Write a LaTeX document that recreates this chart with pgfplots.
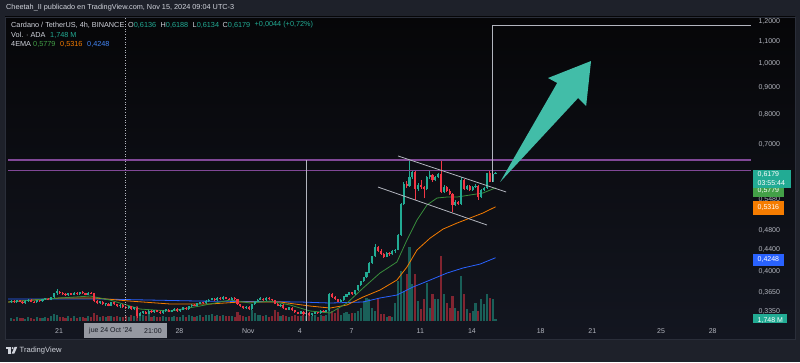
\documentclass[border=0pt]{standalone}
\usepackage{pgfplots}
\pgfplotsset{compat=1.18}
\usepackage{pgfplotstable}
\usepackage{fontspec}
\setmainfont{Liberation Sans}
\definecolor{bgout}{RGB}{30,33,42}
\definecolor{panTop}{RGB}{6,6,8}
\definecolor{panBot}{RGB}{19,22,32}
\definecolor{panline}{RGB}{42,46,57}
\definecolor{txt}{RGB}{209,212,220}
\definecolor{axt}{RGB}{178,181,190}
\definecolor{up}{RGB}{34,171,148}
\definecolor{dn}{RGB}{242,54,69}
\definecolor{emag}{RGB}{56,142,60}
\definecolor{emagbox}{RGB}{67,160,71}
\definecolor{emao}{RGB}{245,124,0}
\definecolor{emab}{RGB}{41,98,255}
\definecolor{emabt}{RGB}{66,133,244}
\definecolor{purp}{RGB}{128,72,150}
\definecolor{arrowc}{RGB}{66,189,168}
\definecolor{drawg}{RGB}{178,181,190}
\definecolor{crossbox}{RGB}{150,153,162}
\definecolor{crosstxt}{RGB}{24,27,36}
\newcommand\fs{\fontsize{7}{8.4}\selectfont}
\newcommand\fh{\fontsize{7.3}{8.6}\selectfont}

\pgfplotstableread{
i o h l c v
0 0.349 0.352 0.348 0.351 3
1 0.351 0.352 0.348 0.349 2
2 0.349 0.353 0.348 0.352 4
3 0.352 0.353 0.349 0.350 3
4 0.350 0.351 0.347 0.348 3
5 0.348 0.352 0.347 0.351 2
6 0.351 0.354 0.350 0.353 4
7 0.353 0.354 0.349 0.350 3
8 0.350 0.351 0.348 0.349 2
9 0.349 0.353 0.348 0.352 4
10 0.352 0.353 0.350 0.351 3
11 0.351 0.355 0.350 0.354 3
12 0.354 0.356 0.353 0.355 4
13 0.355 0.356 0.352 0.353 3
14 0.353 0.358 0.352 0.357 5
15 0.357 0.364 0.356 0.363 7
16 0.363 0.370 0.361 0.366 6
17 0.366 0.367 0.362 0.364 4
18 0.364 0.365 0.361 0.362 4
19 0.362 0.363 0.359 0.360 3
20 0.360 0.364 0.359 0.363 5
21 0.363 0.364 0.360 0.361 3
22 0.361 0.365 0.360 0.364 5
23 0.364 0.365 0.361 0.362 3
24 0.362 0.366 0.361 0.365 4
25 0.365 0.367 0.362 0.363 4
26 0.363 0.364 0.360 0.361 3
27 0.361 0.365 0.360 0.364 5
28 0.364 0.366 0.362 0.363 4
29 0.363 0.364 0.349 0.351 8
30 0.351 0.352 0.346 0.348 6
31 0.348 0.351 0.347 0.350 4
32 0.350 0.351 0.345 0.346 5
33 0.346 0.348 0.344 0.347 4
34 0.347 0.348 0.343 0.344 5
35 0.344 0.350 0.343 0.349 5
36 0.349 0.350 0.345 0.346 4
37 0.346 0.347 0.342 0.343 5
38 0.343 0.346 0.341 0.345 4
39 0.345 0.346 0.341 0.342 4
40 0.342 0.343 0.339 0.340 5
41 0.340 0.344 0.339 0.343 4
42 0.343 0.344 0.338 0.339 6
43 0.339 0.342 0.337 0.341 5
44 0.341 0.342 0.326 0.329 15
45 0.329 0.334 0.328 0.333 8
46 0.333 0.336 0.332 0.335 6
47 0.335 0.336 0.331 0.332 5
48 0.332 0.337 0.331 0.336 7
49 0.336 0.337 0.333 0.334 4
50 0.334 0.338 0.333 0.337 5
51 0.337 0.338 0.334 0.335 4
52 0.335 0.336 0.332 0.333 4
53 0.333 0.337 0.332 0.336 5
54 0.336 0.339 0.335 0.338 4
55 0.338 0.339 0.334 0.335 4
56 0.335 0.338 0.334 0.337 4
57 0.337 0.340 0.336 0.339 5
58 0.339 0.340 0.335 0.336 4
59 0.336 0.339 0.335 0.338 4
60 0.338 0.342 0.337 0.341 6
61 0.341 0.342 0.338 0.339 4
62 0.339 0.344 0.338 0.343 6
63 0.343 0.346 0.342 0.345 5
64 0.345 0.346 0.343 0.344 4
65 0.344 0.348 0.343 0.347 5
66 0.347 0.350 0.346 0.349 6
67 0.349 0.350 0.347 0.348 4
68 0.348 0.352 0.347 0.351 6
69 0.351 0.354 0.350 0.353 6
70 0.353 0.356 0.352 0.355 7
71 0.355 0.356 0.351 0.352 5
72 0.352 0.357 0.351 0.356 6
73 0.356 0.357 0.353 0.354 5
74 0.354 0.359 0.353 0.357 6
75 0.357 0.358 0.354 0.355 5
76 0.355 0.356 0.352 0.353 5
77 0.353 0.357 0.352 0.356 5
78 0.356 0.357 0.353 0.354 4
79 0.354 0.355 0.345 0.346 9
80 0.346 0.347 0.342 0.343 6
81 0.343 0.344 0.339 0.340 5
82 0.340 0.343 0.339 0.342 4
83 0.342 0.343 0.338 0.339 5
84 0.339 0.347 0.338 0.346 11
85 0.346 0.351 0.345 0.350 8
86 0.350 0.354 0.349 0.353 6
87 0.353 0.357 0.352 0.355 6
88 0.355 0.356 0.351 0.352 5
89 0.352 0.358 0.351 0.356 6
90 0.356 0.357 0.353 0.354 4
91 0.354 0.355 0.351 0.352 5
92 0.352 0.353 0.346 0.347 11
93 0.347 0.348 0.343 0.344 9
94 0.344 0.346 0.342 0.345 5
95 0.345 0.346 0.339 0.340 6
96 0.340 0.341 0.337 0.338 5
97 0.338 0.342 0.337 0.341 4
98 0.341 0.342 0.336 0.337 5
99 0.337 0.338 0.333 0.334 6
100 0.334 0.335 0.331 0.332 5
101 0.332 0.336 0.331 0.335 5
102 0.335 0.336 0.330 0.331 6
103 0.331 0.334 0.330 0.333 5
104 0.333 0.334 0.328 0.330 7
105 0.330 0.333 0.329 0.332 5
106 0.332 0.335 0.331 0.334 6
107 0.334 0.335 0.332 0.333 4
108 0.333 0.337 0.332 0.336 6
109 0.336 0.337 0.334 0.335 5
110 0.335 0.338 0.334 0.337 6
111 0.337 0.364 0.336 0.3625 20
112 0.3625 0.364 0.356 0.358 10
113 0.358 0.359 0.353 0.354 8
114 0.354 0.355 0.349 0.350 12
115 0.350 0.354 0.349 0.352 6
116 0.352 0.359 0.351 0.358 8
117 0.358 0.362 0.357 0.361 9
118 0.361 0.366 0.360 0.365 7
119 0.365 0.366 0.361 0.362 8
120 0.362 0.369 0.361 0.368 8
121 0.368 0.377 0.367 0.376 10
122 0.376 0.384 0.375 0.383 13
123 0.383 0.391 0.382 0.390 20
124 0.390 0.399 0.389 0.398 23
125 0.398 0.416 0.397 0.415 22
126 0.415 0.429 0.414 0.428 13
127 0.428 0.452 0.427 0.445 10
128 0.445 0.447 0.436 0.438 23
129 0.438 0.441 0.430 0.432 7
130 0.432 0.434 0.425 0.427 7
131 0.427 0.436 0.426 0.434 4
132 0.434 0.436 0.429 0.431 5
133 0.431 0.439 0.430 0.437 4
134 0.437 0.442 0.434 0.440 18
135 0.440 0.472 0.439 0.470 40
136 0.470 0.540 0.468 0.538 50
137 0.538 0.592 0.535 0.588 30
138 0.588 0.596 0.578 0.583 47
139 0.583 0.656 0.580 0.605 74
140 0.605 0.624 0.600 0.620 37
141 0.620 0.622 0.548 0.575 47
142 0.575 0.590 0.570 0.586 20
143 0.586 0.597 0.575 0.579 12
144 0.579 0.583 0.552 0.575 22
145 0.575 0.608 0.573 0.605 38
146 0.605 0.625 0.601 0.612 13
147 0.612 0.615 0.594 0.597 27
148 0.597 0.610 0.595 0.606 22
149 0.606 0.616 0.603 0.613 22
150 0.613 0.652 0.565 0.568 65
151 0.568 0.584 0.565 0.580 27
152 0.580 0.582 0.568 0.571 18
153 0.571 0.574 0.560 0.563 13
154 0.563 0.566 0.520 0.537 25
155 0.537 0.547 0.533 0.543 13
156 0.543 0.546 0.536 0.539 10
157 0.539 0.606 0.537 0.598 45
158 0.598 0.600 0.572 0.575 27
159 0.575 0.585 0.573 0.582 12
160 0.582 0.584 0.570 0.572 8
161 0.572 0.582 0.570 0.580 10
162 0.580 0.588 0.577 0.583 18
163 0.583 0.585 0.548 0.555 10
164 0.555 0.574 0.553 0.572 22
165 0.572 0.580 0.569 0.578 17
166 0.578 0.618 0.576 0.616 27
167 0.616 0.626 0.592 0.594 23
168 0.594 0.617 0.592 0.6136 22
169 0.6136 0.6188 0.6134 0.6179 2
}\candles

\pgfplotsset{
  chartax/.style={at={(8pt,41pt)}, anchor=south west, scale only axis,
    width=743pt, height=303pt, xmin=-1.047, xmax=258.1},
  upsel/.style={restrict expr to domain={\thisrow{c}-\thisrow{o}}{0:1}},
  dnsel/.style={restrict expr to domain={\thisrow{c}-\thisrow{o}}{-1:-0.000001}},
  candle/.style={draw=none, mark=none, mark size=0pt, mark options={draw=none, fill=none},
    forget plot, error bars/.cd, y dir=plus, y explicit, error mark=none},
}

\begin{document}
\begin{tikzpicture}[x=1pt,y=1pt]
\useasboundingbox (0,0) rectangle (800,362);
\fill[bgout] (0,0) rectangle (800,362);
\shade[top color=panTop, bottom color=panBot] (5,23) rectangle (795,345);
\draw[panline, line width=0.6pt] (5,23) rectangle (795,345);

% volume
\begin{axis}[chartax, ymin=0, ymax=303, hide axis]
\addplot[ycomb, line width=2.1pt, draw=up, draw opacity=0.5, upsel] table[x=i, y=v] {\candles};
\addplot[ycomb, line width=2.1pt, draw=dn, draw opacity=0.5, dnsel] table[x=i, y=v] {\candles};
\end{axis}

% price
\begin{axis}[chartax, ymode=log, ymin=0.3215, ymax=1.2213,
  axis line style={draw=none}, major tick length=0pt, minor tick length=0pt,
  ytick={0.335,0.365,0.4,0.44,0.48,0.548,0.7,0.8,0.9,1,1.1,1.2},
  yticklabels={{0,3350},{0,3650},{0,4000},{0,4400},{0,4800},{0,5480},{0,7000},{0,8000},{0,9000},{1,0000},{1,1000},{1,2000}},
  yticklabel pos=right,
  yticklabel style={font=\fs, text=axt, anchor=west, xshift=4pt},
  xtick={16.75,58.75,82.75,100.75,118.75,142.75,160.75,184.75,202.75,226.75,244.75},
  xticklabels={21,28,Nov,4,7,11,14,18,21,25,28},
  xticklabel style={font=\fs, text=axt, yshift=-4pt},
]
% EMAs
\addplot[emab, line width=0.8pt] coordinates {(-1,0.3542) (31,0.3542) (65.9,0.351) (100.8,0.3496) (111.3,0.348) (122.8,0.3496) (128.7,0.3558) (134.6,0.3605) (140.2,0.3734) (146.2,0.3851) (152.1,0.3972) (157.7,0.4061) (163.6,0.4131) (169,0.4248)};
\addplot[emao, line width=0.8pt] coordinates {(-1,0.3496) (17.1,0.3558) (29.3,0.3558) (41.5,0.351) (55.5,0.3465) (69.4,0.3465) (79.9,0.3496) (93.8,0.3496) (104.3,0.3434) (111.3,0.3404) (117.2,0.345) (122.8,0.3573) (128.7,0.3685) (134.6,0.3851) (138.1,0.4078) (141.6,0.4395) (146.2,0.4633) (150.7,0.482) (155.6,0.495) (160.1,0.506) (164.6,0.5173) (169,0.5316)};
\addplot[emag, line width=0.8pt] coordinates {(-1,0.3496) (17.1,0.3558) (27.6,0.3589) (34.5,0.3526) (45,0.3389) (55.5,0.3359) (65.9,0.3434) (76.4,0.3526) (83.4,0.348) (90.3,0.351) (97.3,0.345) (104.3,0.336) (111.3,0.333) (117.2,0.348) (122.8,0.3717) (128.7,0.3972) (134.6,0.4169) (138.1,0.4593) (141.6,0.5016) (145.1,0.536) (148.6,0.5527) (152.1,0.5551) (155.6,0.5551) (160.1,0.560) (164.6,0.565) (169,0.5779)};
% wicks
\addplot[upsel, candle, error bar style={draw=up, line width=0.7pt}]
  table[x=i, y=l, y error plus expr=\thisrow{h}-\thisrow{l}] {\candles};
\addplot[dnsel, candle, error bar style={draw=dn, line width=0.7pt}]
  table[x=i, y=l, y error plus expr=\thisrow{h}-\thisrow{l}] {\candles};
% bodies
\addplot[upsel, candle, error bar style={draw=up, line width=2.1pt}]
  table[x=i, y=o, y error plus expr=\thisrow{c}-\thisrow{o}+0.0004] {\candles};
\addplot[dnsel, candle, error bar style={draw=dn, line width=2.1pt}]
  table[x=i, y=c, y error plus expr=\thisrow{o}-\thisrow{c}] {\candles};
% drawings
\addplot[purp, line width=1.1pt] coordinates {(-1.047,0.6534) (258.1,0.6534)};
\addplot[purp, line width=1.1pt] coordinates {(-1.047,0.6233) (258.1,0.6233)};
\addplot[drawg, line width=0.7pt] coordinates {(103.1,0.6534) (103.1,0.3215)};
\addplot[drawg, line width=0.7pt] coordinates {(167.8,0.593) (167.8,1.1806) (258.1,1.1806)};
\addplot[drawg, line width=0.8pt] coordinates {(135.0,0.665) (172.7,0.5675)};
\addplot[drawg, line width=0.8pt] coordinates {(128.0,0.580) (166.0,0.4907)};
\addplot[axt, line width=0.6pt, dash pattern=on 1pt off 1.6pt] coordinates {(39.87,0.3215) (39.87,1.2213)};
\fill[arrowc] (axis cs:170.6,0.5931) -- (axis cs:190.5,0.9173) -- (axis cs:187.3,0.9376) -- (axis cs:202.3,1.0105) -- (axis cs:200.6,0.8288) -- (axis cs:197.8,0.8585) -- cycle;
\end{axis}

% header and legend
\node[anchor=west, inner sep=0, text=txt, font=\fh] at (6,354) {Cheetah\_II publicado en TradingView.com, Nov 15, 2024 09:04 UTC-3};
\node[anchor=west, inner sep=0, text=txt, font=\fh] at (11,337) {Cardano / TetherUS, 4h, BINANCE};
\node[anchor=west, inner sep=0, font=\fh] at (128,337) {\color{txt}O\color{up}0,6136};
\node[anchor=west, inner sep=0, font=\fh] at (160.5,337) {\color{txt}H\color{up}0,6188};
\node[anchor=west, inner sep=0, font=\fh] at (192.5,337) {\color{txt}L\color{up}0,6134};
\node[anchor=west, inner sep=0, font=\fh] at (222.5,337) {\color{txt}C\color{up}0,6179};
\node[anchor=west, inner sep=0, font=\fh, text=up] at (254.5,337) {+0,0044 (+0,72\%)};
\node[anchor=west, inner sep=0, text=txt, font=\fh] at (11,327) {Vol. · ADA};
\node[anchor=west, inner sep=0, text=up, font=\fh] at (50,327) {1,748 M};
\node[anchor=west, inner sep=0, text=txt, font=\fh] at (11,318) {4EMA};
\node[anchor=west, inner sep=0, text=emagbox, font=\fh] at (33,318) {0,5779};
\node[anchor=west, inner sep=0, text=emao, font=\fh] at (60,318) {0,5316};
\node[anchor=west, inner sep=0, text=emabt, font=\fh] at (87,318) {0,4248};

% price scale boxes
\fill[emagbox] (752.5,165) rectangle (783.5,181);
\begin{scope}
\clip (752,164) rectangle (790,173.9);
\node[anchor=west, inner sep=0, text=white, font=\fs] at (757.5,171.6) {0,5779};
\end{scope}
\fill[up] (752.5,174) rectangle (790.5,192.5);
\node[anchor=west, inner sep=0, text=white, font=\fs] at (757.5,187.5) {0,6179};
\node[anchor=west, inner sep=0, text=white, font=\fs] at (757.5,179.2) {03:55:44};
\fill[emao] (752.5,147.5) rectangle (783.5,161.5);
\node[anchor=west, inner sep=0, text=white, font=\fs] at (757.5,154) {0,5316};
\fill[emab] (752.5,96) rectangle (783.5,108.5);
\node[anchor=west, inner sep=0, text=white, font=\fs] at (757.5,102.2) {0,4248};
\begin{scope}
\clip (752,39.5) rectangle (792,52);
\fill[up] (752.5,35) rectangle (786.5,48);
\node[anchor=west, inner sep=0, text=white, font=\fs] at (757.5,41.5) {1,748 M};
\end{scope}

% crosshair time label
\fill[crossbox] (84,24) rectangle (167,39);
\node[anchor=west, inner sep=0, text=crosstxt, font=\fs] at (89,31.2) {jue 24 Oct \symbol{39}24};
\node[anchor=west, inner sep=0, text=crosstxt, font=\fs] at (144,31.2) {21:00};

% footer logo
\fill[txt] (6,13) rectangle (10.8,15.2);
\fill[txt] (8.4,8.3) rectangle (10.8,15.2);
\fill[txt] (12.6,13.9) circle (1.05);
\fill[txt] (14.6,15.2) -- (17.3,15.2) -- (14.3,8.3) -- (11.6,8.3) -- cycle;
\node[anchor=west, inner sep=0, text=txt, font=\fontsize{7.6}{9}\selectfont] at (19.5,11.5) {TradingView};
\end{tikzpicture}
\end{document}
